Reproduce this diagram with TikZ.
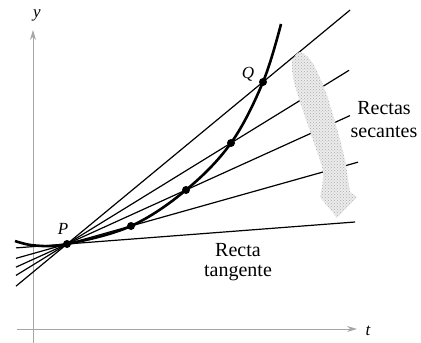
\documentclass[tikz,border=0pt]{standalone}
\usepackage{fontspec}
\setmainfont{Liberation Serif}
\usetikzlibrary{calc,patterns,arrows.meta}

\begin{document}
\begin{tikzpicture}[x=1pt,y=-1pt,>={Stealth[length=10pt,width=6pt]},
   axis/.style={draw=gray!70,line width=0.9pt},
   secline/.style={line width=1.2pt},
   curvepath/.style={line width=2.6pt},
   dot/.style={circle,fill,inner sep=0pt,minimum size=8pt},
   lbl/.style={font=\fontsize{20}{23}\selectfont,align=center},
   var/.style={font=\fontsize{17}{17}\selectfont\itshape},
   shade/.style={fill=gray!15,postaction={pattern=crosshatch dots,pattern color=gray!65}}]
  \useasboundingbox (0,0) rectangle (421,343);
  % axes
  \coordinate (xs) at (17,329); \coordinate (xe) at (357,329);
  \coordinate (ys) at (33,343); \coordinate (ye) at (33,30);
  \draw[axis,->] (xs) -- (xe);
  \draw[axis,->] (ys) -- (ye);
  \node[var] (ylab) at (37,15) {y};
  \node[var] (tlab) at (368,331) {t};
  % points on the curve
  \coordinate (P) at (67,244);
  \coordinate (A) at (131,226);
  \coordinate (B) at (186,190);
  \coordinate (C) at (231,143);
  \coordinate (Q) at (263,82);
  \coordinate (T) at (355,222);
  % secants and tangent through P
  \foreach \pt/\l/\r in {Q/-0.26/1.444,C/-0.311/1.72,B/-0.429/2.378,A/-0.797/4.547,T/-0.177/1}
    \draw[secline] ($(P)!\l!(\pt)$) -- ($(P)!\r!(\pt)$);
  % curve
  \draw[curvepath] plot[smooth,tension=0.6] coordinates {(15,241) (35,245.5) (67,244) (131,226) (186,190) (231,143) (263,82) (281,24)};
  \foreach \pt in {P,A,B,C,Q} \node[dot] at (\pt) {};
  \node[var] (Plab) at (63,229) {P};
  \node[var] (Qlab) at (248,74) {Q};
  % shaded arrow
  \path[shade] plot[smooth,tension=0.5] coordinates {(320,197) (323,172) (313,140) (302,108) (294,82) (292,62) (300,52) (312,62) (325,90) (336,125) (345,160) (350,192)} -- (357,197) -- (337,218) -- cycle;
  \node[lbl] (sec) at (384,120) {Rectas\\secantes};
  \node[lbl] (tan) at (238,262) {Recta\\[-3pt]tangente};
\end{tikzpicture}
\end{document}
